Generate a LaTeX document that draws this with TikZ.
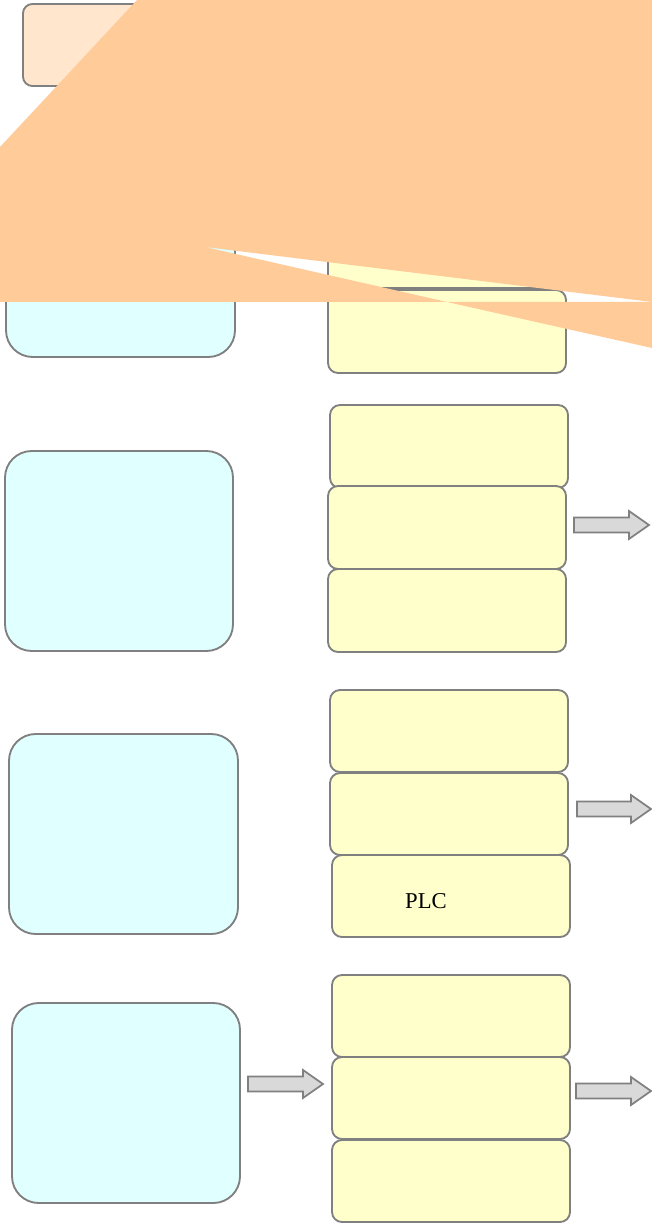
\documentclass[tikz,border=0pt]{standalone}
\usepackage{fontspec}
\setmainfont{Liberation Serif}
\definecolor{bordergray}{HTML}{808080}
\definecolor{cyanfill}{HTML}{E0FFFF}
\definecolor{yellowfill}{HTML}{FFFFCC}
\definecolor{peachfill}{HTML}{FFE6CC}
\definecolor{orangefill}{HTML}{FFCB99}
\definecolor{arrowfill}{HTML}{D9D9D9}
\tikzset{
  basebox/.style={draw=bordergray, line width=1.4pt, inner sep=0pt, outer sep=0pt},
  ybox/.style={basebox, fill=yellowfill, rounded corners=7.5pt},
  cbox/.style={basebox, fill=cyanfill, rounded corners=20pt},
  pbox/.style={basebox, fill=peachfill, rounded corners=7pt},
  blockarrow/.style={draw=bordergray, fill=arrowfill, line width=1.3pt, line join=miter},
  lbl/.style={font=\fontsize{17}{20}\selectfont, inner sep=0pt}
}
% box by pixel corners: name, style, x1, y1, x2, y2
\newcommand{\pbx}[6]{%
  \node[#2, minimum width={(#5-#3)*0.75pt}, minimum height={(#6-#4)*0.75pt}]
    (#1) at ({(#3+#5)/2}, {(#4+#6)/2}) {};}
% block arrow: name, x1, x2, yc
\newcommand{\barrow}[4]{%
  \coordinate (#1) at (#2,#4);
  \draw[blockarrow] (#1) ++(0,-7.5) -- ++({#3-#2-20},0) -- ++(0,-6.5) -- ({#3},#4)
    -- ({#3-20},{#4+14}) -- ++(0,-6.5) -- (#2,{#4+7.5}) -- cycle;}
\begin{document}
\begin{tikzpicture}[x=0.75pt, y=-0.75pt]
\useasboundingbox (0,0) rectangle (652,1226);
% group 1 (mostly hidden)
\pbx{peach}{pbox}{23}{4}{233}{86}
\pbx{c1}{cbox}{6}{157}{235}{357}
\pbx{y1a}{ybox}{330}{123}{568}{206}
\pbx{y1b}{ybox}{328}{206}{566}{288}
\pbx{y1c}{ybox}{328}{290}{566}{373}
% orange overlay
\fill[orangefill] (137,0) -- (652,0) -- (652,302) -- (205,247) -- (447,302)
  -- (0,302) -- (0,147) -- cycle;
\fill[orangefill] (447,302) -- (652,302) -- (652,348) -- cycle;
% group 2
\pbx{c2}{cbox}{5}{451}{233}{651}
\pbx{y2a}{ybox}{330}{405}{568}{488}
\pbx{y2b}{ybox}{328}{486}{566}{569}
\pbx{y2c}{ybox}{328}{569}{566}{652}
\barrow{a2}{574}{649}{525}
% group 3
\pbx{c3}{cbox}{9}{734}{238}{934}
\pbx{y3a}{ybox}{330}{690}{568}{772}
\pbx{y3b}{ybox}{330}{773}{568}{855}
\pbx{y3c}{ybox}{332}{855}{570}{937}
\node[lbl] (plc) at (426,901) {PLC};
\barrow{a3}{577}{651}{809}
% group 4
\pbx{c4}{cbox}{12}{1003}{240}{1203}
\pbx{y4a}{ybox}{332}{975}{570}{1057}
\pbx{y4b}{ybox}{332}{1057}{570}{1139}
\pbx{y4c}{ybox}{332}{1140}{570}{1222}
\barrow{a4l}{248}{323}{1084}
\barrow{a4r}{576}{651}{1091}
\end{tikzpicture}
\end{document}
